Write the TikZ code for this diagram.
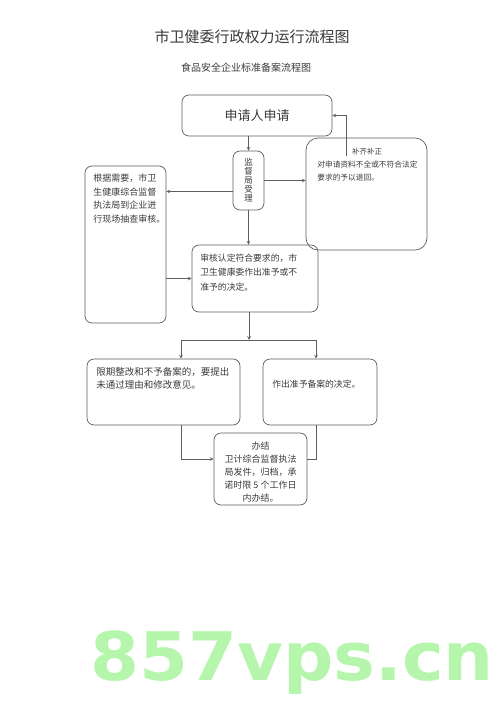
\documentclass[tikz,border=0pt]{standalone}
\usepackage{fontspec}
\setmainfont{Noto Sans CJK SC}
\newfontfamily\markfont{DejaVu Sans}
\definecolor{linegray}{HTML}{5E5E5E}
\definecolor{inkgray}{HTML}{3A3A3A}
\definecolor{markgreen}{RGB}{181,245,172}

\begin{document}
\begin{tikzpicture}[x=1pt,y=-1pt,->,>=stealth,line width=0.7pt,linegray,
    main box/.style={rectangle,rounded corners=7pt,draw=linegray,inner sep=0pt,text=inkgray},
    main text/.style={inner sep=0pt,align=left,anchor=north west,text=inkgray}]
  \useasboundingbox (0,0) rectangle (500,707);

  \node[text=inkgray,font=\fontsize{15}{18}\selectfont] (title) at (252,37) {市卫健委行政权力运行流程图};
  \node[text=inkgray,font=\fontsize{10}{12}\selectfont] (sub) at (246,68) {食品安全企业标准备案流程图};

  \node[main box,minimum width=150pt,minimum height=41pt,font=\fontsize{13}{15}\selectfont] (1) at (257,115.5) {申请人申请};
  \node[main box,minimum width=31pt,minimum height=59pt,align=center,font=\fontsize{8.5}{9}\selectfont] (2) at (248.5,180.5) {监\\督\\局\\受\\理};

  \node[main box,rounded corners=12pt,minimum width=121pt,minimum height=112pt] (3) at (366.5,194) {};
  \node[main text,anchor=center,font=\fontsize{7.5}{9}\selectfont] (3a) at (367,152) {补齐补正};
  \node[main text,font=\fontsize{7.7}{13}\selectfont] (3b) at (317,161) {对申请资料不全或不符合法定\\要求的予以退回。};
  \coordinate (c1) at (346,156);

  \node[main box,minimum width=81pt,minimum height=157pt] (4) at (125.5,244.5) {};
  \node[main text,font=\fontsize{9}{13.7}\selectfont] (4a) at (93,173.5) {根据需要，市卫\\生健康综合监督\\执法局到企业进\\行现场抽查审核。};

  \node[main box,minimum width=126pt,minimum height=67pt] (5) at (255,278.5) {};
  \node[main text,font=\fontsize{8.8}{14.5}\selectfont] (5a) at (200,253.6) {审核认定符合要求的，市\\卫生健康委作出准予或不\\准予的决定。};

  \node[main box,minimum width=153pt,minimum height=66pt] (6) at (163.5,392) {};
  \node[main text,font=\fontsize{9.5}{13}\selectfont] (6a) at (96,367) {限期整改和不予备案的，要提出\\未通过理由和修改意见。};

  \node[main box,minimum width=114pt,minimum height=66pt] (7) at (320,392) {};
  \node[main text,font=\fontsize{8.8}{13}\selectfont] (7a) at (272,379.6) {作出准予备案的决定。};

  \node[main box,minimum width=93pt,minimum height=72pt] (8) at (260.5,469) {};
  \node[main text,align=center,anchor=north,font=\fontsize{9}{13}\selectfont] (8a) at (260.5,441.5) {办结\\卫计综合监督执法\\局发件，归档，承\\诺时限 5 个工作日\\内办结。};

  \coordinate (s) at (249,340);
  \coordinate (sl) at (181,340);
  \coordinate (sr) at (316,340);

  % connectors
  \draw (1.south -| 2.north) -- (2.north);
  \draw (2.east) -- (2.east -| 3.west);
  \draw ([yshift=-11pt]2.west) -- ([yshift=-11pt]2.west -| 4.east);
  \draw (c1) |- (1.east);
  \draw (2.south) -- (2.south |- 5.north);
  \draw (4.east |- 5.west) -- (5.west);
  \draw (5.south -| s) -- (s);
  \draw[-] (sl) -- (sr);
  \draw (sl) -- (sl |- 6.north);
  \draw (sr) -- (sr |- 7.north);
  \draw (sl |- 6.south) |- ([yshift=10pt]8.west);
  \draw[-] (sr |- 7.south) |- ([yshift=10pt]8.east);

  \node[anchor=base west,inner sep=0pt,xscale=1.05,text=markgreen,font=\markfont\bfseries\fontsize{67}{67}\selectfont] (mark) at (90,680) {857vps.cn};
\end{tikzpicture}
\end{document}
